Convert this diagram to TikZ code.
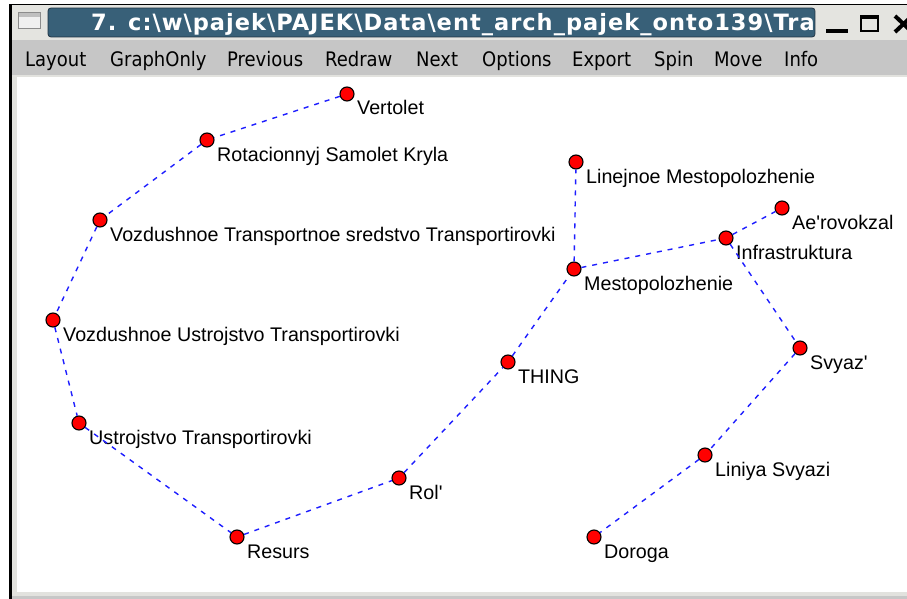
\documentclass[tikz,border=0pt]{standalone}
\usepackage{fontspec}
\setmainfont{Liberation Sans}
\newfontfamily\uifont{DejaVu Sans Condensed}
\newfontfamily\titlefont[LetterSpace=4.5]{DejaVu Sans}
\definecolor{titlebg}{RGB}{228,228,224}
\definecolor{titlebox}{RGB}{56,96,120}
\definecolor{titleedge}{RGB}{30,50,66}
\definecolor{menubg}{RGB}{198,198,198}
\definecolor{edgeblue}{RGB}{30,30,255}
\definecolor{framegrey}{RGB}{226,226,222}
\tikzset{
  vertex/.style={circle, draw=black, fill=red, line width=1.1pt, minimum size=14pt, inner sep=0pt},
  lbl/.style={anchor=base west, inner sep=0pt, font=\fontsize{19.7}{22}\selectfont},
  link/.style={draw=edgeblue, line width=1.4pt, dash pattern=on 5pt off 6pt},
  menuitem/.style={anchor=base west, inner sep=0pt, font=\uifont\fontsize{20}{22}\selectfont},
}
\newcommand\pvertex[4]{%
  \node[vertex] (#1) at (#2,#3) {};
  \node[lbl] (#1-lbl) at ([shift={(10,21)}]#1.center) {#4};
}
\newcommand\bs{\textbackslash}
\begin{document}
\begin{tikzpicture}[x=1pt, y=-1pt]
\useasboundingbox (0,0) rectangle (907,599);
% window chrome
\fill[white] (0,0) rectangle (907,599);
\fill[titlebg] (10,5) rectangle (907,40);
\fill[menubg] (10,40) rectangle (907,75);
\fill[framegrey] (10,75) rectangle (907,599);
\fill[white] (17,77) rectangle (907,592);
\fill[black!22] (10,596) rectangle (907,599);
\fill[black] (9,4) rectangle (11.5,599);
\fill[black] (9,4) rectangle (907,5.5);
% window icon
\draw[fill=white!94!black, draw=black!45, line width=1pt] (18,13) rectangle (40,29);
\fill[black!25] (18.5,13.5) rectangle (39.5,17);
% title box (the long path is cut off by the box, as in the window)
\begin{scope}
  \path[clip, rounded corners=3pt] (48,8) rectangle (815,37);
  \fill[titlebox] (48,8) rectangle (815,37);
  \node[anchor=base west, inner sep=0pt, text=white, font=\titlefont\bfseries\fontsize{22.5}{26}\selectfont] (title) at (91,31)
    {7. c:\bs w\bs pajek\bs PAJEK\bs Data\bs ent\_arch\_pajek\_onto139\bs Transport};
\end{scope}
\draw[titleedge, rounded corners=3pt, line width=0.8pt] (48,8) rectangle (815,37);
% window buttons
\fill[black] (826,29) rectangle (848,33);
\draw[black, line width=2pt] (861,16) rectangle (878,31);
\fill[black] (860,15) rectangle (879,19);
\draw[black, line width=4pt] (895,16) -- (912,32) (912,16) -- (895,32);
% menu
\node[menuitem] (m1) at (25,67) {Layout};
\node[menuitem] (m2) at (110,67) {GraphOnly};
\node[menuitem] (m3) at (227,67) {Previous};
\node[menuitem] (m4) at (325,67) {Redraw};
\node[menuitem] (m5) at (416,67) {Next};
\node[menuitem] (m6) at (482,67) {Options};
\node[menuitem] (m7) at (572,67) {Export};
\node[menuitem] (m8) at (654,67) {Spin};
\node[menuitem] (m9) at (714,67) {Move};
\node[menuitem] (m10) at (784,67) {Info};
% vertices
\pvertex{vert}{347}{94}{Vertolet}
\pvertex{rot}{207}{140}{Rotacionnyj Samolet Kryla}
\pvertex{vts}{100}{220}{Vozdushnoe Transportnoe sredstvo Transportirovki}
\pvertex{vut}{53}{320}{Vozdushnoe Ustrojstvo Transportirovki}
\pvertex{ust}{79}{423}{Ustrojstvo Transportirovki}
\pvertex{res}{237}{537}{Resurs}
\pvertex{rol}{399}{478}{Rol\textquotesingle}
\pvertex{thing}{508}{362}{THING}
\pvertex{mesto}{574}{269}{Mestopolozhenie}
\pvertex{linmesto}{576}{162}{Linejnoe Mestopolozhenie}
\pvertex{infra}{726}{238}{Infrastruktura}
\pvertex{aero}{782}{208}{Ae\textquotesingle rovokzal}
\pvertex{svyaz}{800}{348}{Svyaz\textquotesingle}
\pvertex{liniya}{705}{455}{Liniya Svyazi}
\pvertex{doroga}{594}{537}{Doroga}
% links
\path[link] (vert) -- (rot) -- (vts) -- (vut) -- (ust) -- (res) -- (rol) -- (thing) -- (mesto) -- (linmesto);
\path[link] (mesto) -- (infra) -- (aero);
\path[link] (infra) -- (svyaz) -- (liniya) -- (doroga);
\end{tikzpicture}
\end{document}
